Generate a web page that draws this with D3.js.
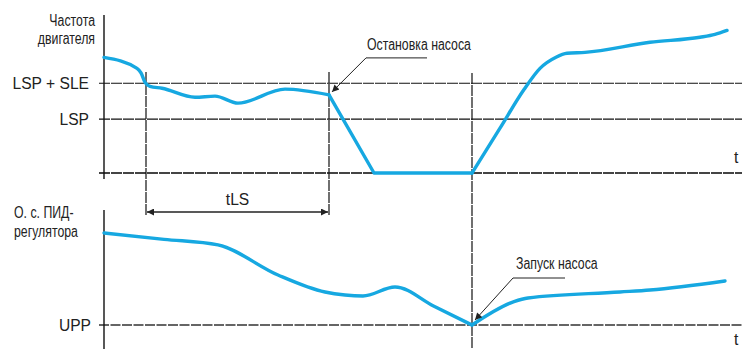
<!DOCTYPE html>
<html>
<head>
<meta charset="utf-8">
<script src="https://cdn.jsdelivr.net/npm/d3@7"></script>
<style>
    body { margin: 0; background: #fff; }
    svg { display: block; }
    .narrow { font-family: "Liberation Sans", Arial, sans-serif; font-size: 16px; fill: #222; }
    .reg { font-family: "Liberation Sans", Arial, sans-serif; font-size: 15.6px; fill: #222; }
</style>
</head>
<body>
<script>
// motor frequency (top panel), time in arbitrary units
var motorT = [0, 16.5, 18.5, 20.5, 23, 29, 45.5, 55.5, 67, 90.5, 112.5, 135, 184, 198, 210, 218, 226, 231.5, 240.5, 273, 298, 305.5, 311.5];
var motorF = [64.4, 58.3, 55.8, 50.5, 48.3, 47.2, 42.2, 42.8, 38.9, 46.7, 43.5, 0, 0, 25, 46.5, 58.3, 64.5, 66.7, 67.2, 72.8, 75.6, 77.2, 79.4];
// PID feedback (bottom panel)
var pidT = [0, 30, 57, 87, 110.5, 120.5, 129.5, 145.5, 165, 184, 205, 212, 258, 273, 310.5];
var pidV = [96.7, 91.4, 86.7, 61.7, 47.5, 45, 44.2, 51.7, 35.6, 20, 39.5, 42.5, 47.5, 49.2, 56.7];

var topLevelLabels = ["LSP + SLE", "LSP"];
var topLevelValues = [50, 30];
var bottomLevelLabels = ["UPP"];
var bottomLevelValues = [20];

// event times: sleep start, pump stop, pump start
var eventTimes = [21, 112.5, 184];

function init(){
    var w = 742;
    var h = 349;
    var blue = "#16a8e1";
    var squeeze = 0.77;     // condensed look for the cyrillic labels

    var svg = d3.select("body")
                .append("svg")
                .attr("width", w)
                .attr("height", h);

    var xScale = d3.scaleLinear()
                    .domain([0, 319])
                    .range([104, 742]);

    var yTop = d3.scaleLinear()
                    .domain([0, 88])
                    .range([173, 15]);

    var yBottom = d3.scaleLinear()
                    .domain([0, 120])
                    .range([349, 205]);

    // arrow marker
    var defs = svg.append("defs");
    defs.append("marker")
        .attr("id", "arr")
        .attr("viewBox", "0 0 10 10")
        .attr("refX", 10)
        .attr("refY", 5)
        .attr("markerWidth", 11)
        .attr("markerHeight", 7)
        .attr("markerUnits", "userSpaceOnUse")
        .attr("orient", "auto-start-reverse")
        .append("path")
        .attr("d", "M0,0 L10,5 L0,10 z")
        .attr("fill", "#222");

    function narrowText(x, y, str, anchor){
        svg.append("text")
            .attr("class", "narrow")
            .attr("text-anchor", anchor || "start")
            .attr("transform", "translate(" + x + "," + y + ") scale(" + squeeze + ",1)")
            .text(str);
    }

    // horizontal level lines
    svg.selectAll(".toplevel")
        .data(topLevelValues)
        .enter()
        .append("line")
        .attr("x1", 99)
        .attr("x2", w)
        .attr("y1", function(d){ return yTop(d); })
        .attr("y2", function(d){ return yTop(d); })
        .attr("stroke", "#111")
        .attr("stroke-width", 1.2)
        .attr("stroke-dasharray", "11,1");

    svg.selectAll(".botlevel")
        .data(bottomLevelValues)
        .enter()
        .append("line")
        .attr("x1", 99)
        .attr("x2", w)
        .attr("y1", function(d){ return yBottom(d); })
        .attr("y2", function(d){ return yBottom(d); })
        .attr("stroke", "#333")
        .attr("stroke-width", 1.6)
        .attr("stroke-dasharray", "10,1.5");

    // top x axis (time)
    svg.append("line")
        .attr("x1", 99).attr("x2", w)
        .attr("y1", yTop(0)).attr("y2", yTop(0))
        .attr("stroke", "#444")
        .attr("stroke-width", 1.8)
        .attr("stroke-dasharray", "11,1");

    // level labels using axes
    var topAxis = d3.axisLeft(yTop)
                    .tickValues(topLevelValues)
                    .tickFormat(function(d, i){ return topLevelLabels[i]; })
                    .tickSize(0)
                    .tickPadding(15);
    svg.append("g")
        .attr("transform", "translate(104,0)")
        .call(topAxis)
        .call(function(g){ g.select(".domain").remove(); })
        .selectAll("text")
        .attr("class", "reg")
        .attr("dy", "0.36em");

    var botAxis = d3.axisLeft(yBottom)
                    .tickValues(bottomLevelValues)
                    .tickFormat(function(d, i){ return bottomLevelLabels[i]; })
                    .tickSize(0)
                    .tickPadding(13);
    svg.append("g")
        .attr("transform", "translate(104,0)")
        .call(botAxis)
        .call(function(g){ g.select(".domain").remove(); })
        .selectAll("text")
        .attr("class", "reg")
        .attr("dy", "0.36em");

    // y axes
    svg.append("line")
        .attr("x1", 104).attr("x2", 104)
        .attr("y1", 15).attr("y2", 179)
        .attr("stroke", "#111").attr("stroke-width", 1.4);
    svg.append("line")
        .attr("x1", 104).attr("x2", 104)
        .attr("y1", 210).attr("y2", h)
        .attr("stroke", "#111").attr("stroke-width", 1.4);

    // event verticals
    var vTop = [72, 72, 73];
    var vBottom = [216, 216, h];
    svg.selectAll(".ev")
        .data(eventTimes)
        .enter()
        .append("line")
        .attr("x1", function(d){ return xScale(d); })
        .attr("x2", function(d){ return xScale(d); })
        .attr("y1", function(d, i){ return vTop[i]; })
        .attr("y2", function(d, i){ return vBottom[i]; })
        .attr("stroke", "#111")
        .attr("stroke-width", 1.2)
        .attr("stroke-dasharray", "11,1");

    // tLS dimension arrow
    svg.append("line")
        .attr("x1", xScale(eventTimes[0]) + 1)
        .attr("x2", xScale(eventTimes[1]) - 1)
        .attr("y1", 212).attr("y2", 212)
        .attr("stroke", "#222").attr("stroke-width", 1.3)
        .attr("marker-start", "url(#arr)")
        .attr("marker-end", "url(#arr)");
    svg.append("text")
        .attr("class", "reg")
        .attr("text-anchor", "middle")
        .attr("x", (xScale(eventTimes[0]) + xScale(eventTimes[1])) / 2)
        .attr("y", 205)
        .text("tLS");

    function pairs(ts, vs, a, b){
        var out = [];
        for (let i = a; i <= b; i++){
            out.push([ts[i], vs[i]]);
        }
        return out;
    }

    // curves (split at the sharp corners)
    var topSegs = [[0, 10, true], [10, 12, false], [12, motorT.length - 1, true]];
    topSegs.forEach(function(s){
        var gen = d3.line()
                    .x(function(d){ return xScale(d[0]); })
                    .y(function(d){ return yTop(d[1]); })
                    .curve(s[2] ? d3.curveMonotoneX : d3.curveLinear);
        svg.append("path")
            .attr("d", gen(pairs(motorT, motorF, s[0], s[1])))
            .attr("fill", "none")
            .attr("stroke", blue)
            .attr("stroke-width", 3.4)
            .attr("stroke-linecap", "round")
            .attr("stroke-linejoin", "round");
    });

    var botSegs = [[0, 9], [9, pidT.length - 1]];
    botSegs.forEach(function(s){
        var gen = d3.line()
                    .x(function(d){ return xScale(d[0]); })
                    .y(function(d){ return yBottom(d[1]); })
                    .curve(d3.curveMonotoneX);
        svg.append("path")
            .attr("d", gen(pairs(pidT, pidV, s[0], s[1])))
            .attr("fill", "none")
            .attr("stroke", blue)
            .attr("stroke-width", 3.4)
            .attr("stroke-linecap", "round")
            .attr("stroke-linejoin", "round");
    });

    // annotations
    var stopX = xScale(eventTimes[1]);
    var stopY = yTop(motorF[10]);
    svg.append("path")
        .attr("d", "M" + (stopX + 98) + "," + (stopY - 37) + "H" + (stopX + 37) + "L" + (stopX + 3) + "," + (stopY - 3))
        .attr("fill", "none")
        .attr("stroke", "#222").attr("stroke-width", 1)
        .attr("marker-end", "url(#arr)");
    narrowText(stopX + 38, stopY - 45, "Остановка насоса");

    var startX = xScale(eventTimes[2]);
    var startY = yBottom(pidV[9]);
    svg.append("path")
        .attr("d", "M" + (startX + 93) + "," + (startY - 47) + "H" + (startX + 41) + "L" + (startX + 3) + "," + (startY - 5))
        .attr("fill", "none")
        .attr("stroke", "#222").attr("stroke-width", 1)
        .attr("marker-end", "url(#arr)");
    narrowText(startX + 44, startY - 56, "Запуск насоса");

    // axis titles
    narrowText(95, 26, "Частота", "end");
    narrowText(95, 44, "двигателя", "end");
    narrowText(14, 218, "О. с. ПИД-");
    narrowText(14, 237, "регулятора");

    // time labels
    svg.append("text").attr("class", "reg")
        .attr("x", 734).attr("y", 163).text("t");
    svg.append("text").attr("class", "reg")
        .attr("x", 734).attr("y", 345).text("t");
}
window.onload = init;
</script>
</body>
</html>
